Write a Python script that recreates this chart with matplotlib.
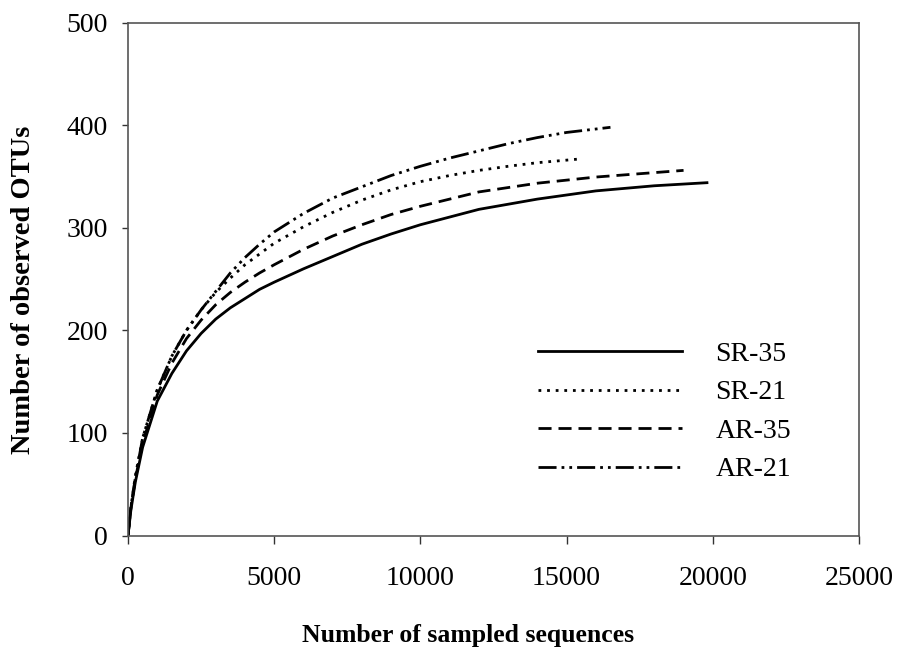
import matplotlib
matplotlib.use("Agg")
import matplotlib.pyplot as plt

plt.rcParams['font.family'] = ['Liberation Serif', 'DejaVu Serif']

# rarefaction curves
sr35_x = [0, 100, 250, 500, 1000, 1500, 2000, 2500, 3000, 3500, 4000, 4500, 5000, 6000, 7000, 8000, 9000, 10000, 12000, 14000, 16000, 18000, 19800]
sr35_y = [0, 25, 52, 86, 131, 158, 180, 197, 211, 222, 231, 240, 247, 260, 272, 284, 294, 303, 318, 328, 336, 341, 344]

sr21_x = [0, 100, 250, 500, 1000, 1500, 2000, 2500, 3000, 3500, 4000, 5000, 6000, 7000, 8000, 9000, 10000, 11000, 12000, 13000, 14000, 15400]
sr21_y = [0, 28, 58, 95, 142, 175, 200, 220, 237, 251, 264, 285, 301, 315, 327, 337, 345, 351, 356, 360, 363.5, 367]

ar35_x = [0, 100, 250, 500, 1000, 1500, 2000, 2500, 3000, 3500, 4000, 4500, 5000, 6000, 7000, 8000, 9000, 10000, 12000, 14000, 16000, 19000]
ar35_y = [0, 27, 55, 90, 137, 168, 192, 210, 225, 237, 247, 256, 264, 279, 292, 303, 313, 321, 335, 343.5, 349.5, 356]

ar21_x = [0, 100, 250, 500, 1000, 1500, 2000, 2500, 3000, 3500, 4000, 4500, 5000, 6000, 7000, 8000, 9000, 10000, 11000, 12000, 13000, 14000, 15000, 16500]
ar21_y = [0, 28, 56, 95, 142, 175, 200, 220, 238, 256, 271, 284, 296, 314, 329, 340, 351, 360, 368, 375, 382, 388, 393, 398]

series = [
    ("SR-35", sr35_x, sr35_y, '-'),
    ("SR-21", sr21_x, sr21_y, (0, (1.0, 2.1))),
    ("AR-35", ar35_x, ar35_y, (0, (4.7, 2.5))),
    ("AR-21", ar21_x, ar21_y, (0, (6.5, 1.8, 1.0, 1.8, 1.0, 1.8))),
]

fig = plt.figure(figsize=(9.01, 6.47), dpi=100)
ax = fig.add_axes([128/901, 1 - 535.5/647, 731/901, 512.8/647])

for lab, xs, ys, ls in series:
    ax.plot(xs, ys, color='black', lw=2.0, linestyle=ls, label=lab)

ax.set_xlim(0, 25000)
ax.set_ylim(0, 500)
ax.set_xticks([0, 5000, 10000, 15000, 20000, 25000])
ax.set_yticks([0, 100, 200, 300, 400, 500])

for sp in ax.spines.values():
    sp.set_color('#555555')
    sp.set_linewidth(1.2)
ax.tick_params(direction='out', width=1, color='#333333', labelsize=20)
ax.tick_params(axis='x', length=5.5, pad=16.5)
ax.tick_params(axis='y', length=4.5, pad=10)

ax.set_xlabel('Number of sampled sequences', fontsize=18.5, fontweight='bold')
ax.set_ylabel('Number of observed OTUs', fontsize=20.5, fontweight='bold')
ax.xaxis.set_label_coords(0.465, -0.172)
ax.yaxis.label.set_verticalalignment('center')
ax.yaxis.set_label_coords(-0.143, 0.479)

leg = ax.legend(loc='upper left', bbox_to_anchor=(0.545, 0.40), frameon=False,
                fontsize=20, handlelength=5.2, handletextpad=1.2,
                labelspacing=0.47, borderaxespad=0)

fig.savefig('out.png', dpi=100)
